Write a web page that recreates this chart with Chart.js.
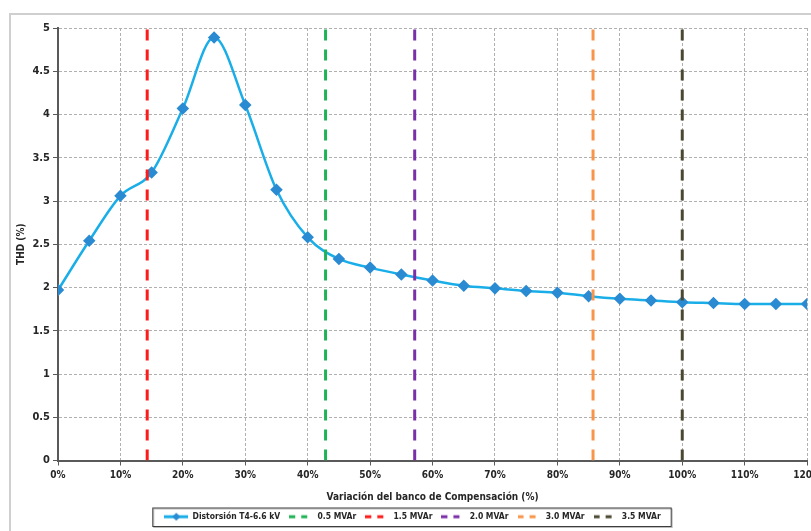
<!DOCTYPE html>
<html>
<head>
<meta charset="utf-8">
<script src="https://cdn.jsdelivr.net/npm/chart.js@4.4.0/dist/chart.umd.min.js"></script>
<style>
    html, body { margin: 0; padding: 0; background: #fff; overflow: hidden; width: 811px; height: 531px; }
    #frame { position: absolute; left: 9px; top: 13px; width: 900px; height: 600px; border: 2px solid #cfcfcf; }
    #wrap { position: absolute; left: 0; top: 0; width: 825px; height: 531px; }
</style>
</head>
<body>
<div id="frame"></div>
<div id="wrap"><canvas id="thdChart"></canvas></div>
<script>
// Variación del banco (%) vs THD (%)
const compensation = [0, 5, 10, 15, 20, 25, 30, 35, 40, 45, 50, 55, 60, 65, 70, 75, 80, 85, 90, 95, 100, 105, 110, 115, 120];
const thdValues = [1.97, 2.54, 3.06, 3.33, 4.07, 4.89, 4.11, 3.13, 2.58, 2.33, 2.23, 2.15, 2.08, 2.02, 1.99, 1.96, 1.94, 1.90, 1.87, 1.85, 1.83, 1.82, 1.81, 1.81, 1.81];

// bank size markers (vertical dashed lines)
const bankLabels = ['0.5 MVAr', '1.5 MVAr', '2.0 MVAr', '3.0 MVAr', '3.5 MVAr'];
const bankPositions = [42.86, 14.29, 57.14, 85.71, 100];
const bankColors = ['#1fb356', '#ff1a1a', '#7a2fa8', '#f7964a', '#4a4832'];

const seriesLabel = 'Distorsión T4-6.6 kV';
const lineColor = '#1aaee8';
const markerColor = '#2a8bd2';
const FONT = "'Liberation Sans Narrow', 'DejaVu Sans Condensed', 'Liberation Sans', sans-serif";

function makeLegendIcon(color, dashed, marker) {
    const c = document.createElement('canvas');
    c.width = 24;
    c.height = 10;
    const g = c.getContext('2d');
    g.strokeStyle = color;
    g.lineWidth = 3;
    if (dashed) g.setLineDash([6, 6]);
    g.beginPath();
    g.moveTo(0, 5);
    g.lineTo(24, 5);
    g.stroke();
    if (marker) {
        g.fillStyle = markerColor;
        g.beginPath();
        g.moveTo(12, 1);
        g.lineTo(16, 5);
        g.lineTo(12, 9);
        g.lineTo(8, 5);
        g.closePath();
        g.fill();
    }
    return c;
}

const legendIcons = [makeLegendIcon(lineColor, false, true)].concat(
    bankColors.map(col => makeLegendIcon(col, true, false))
);

const datasets = [{
    label: seriesLabel,
    data: compensation.map((x, i) => ({ x: x, y: thdValues[i] })),
    borderColor: lineColor,
    backgroundColor: markerColor,
    borderWidth: 2.5,
    pointStyle: 'rectRot',
    pointRadius: 4.5,
    pointBackgroundColor: markerColor,
    pointBorderColor: markerColor,
    cubicInterpolationMode: 'monotone',
    order: 1
}];

bankLabels.forEach((lbl, i) => {
    datasets.push({
        label: lbl,
        data: [{ x: bankPositions[i], y: 0 }, { x: bankPositions[i], y: 5 }],
        borderColor: bankColors[i],
        backgroundColor: bankColors[i],
        borderWidth: 3,
        borderDash: [11, 9],
        pointRadius: 0,
        order: 0
    });
});

const legendBorder = {
    id: 'legendBorder',
    afterDraw(chart) {
        const boxes = chart.legend && chart.legend.legendHitBoxes;
        if (!boxes || !boxes.length) return;
        const ctx = chart.ctx;
        let minX = Infinity, maxX = -Infinity;
        boxes.forEach(b => { minX = Math.min(minX, b.left); maxX = Math.max(maxX, b.left + b.width); });
        const top = boxes[0].top - 5;
        const h = boxes[0].height + 10;
        ctx.save();
        ctx.strokeStyle = '#bdbdbd';
        ctx.lineWidth = 1;
        ctx.strokeRect(minX - 12 + 1.5, top + 1.5, maxX - minX + 22, h);
        ctx.strokeStyle = '#3d3d3d';
        ctx.strokeRect(minX - 12 + 0.5, top + 0.5, maxX - minX + 22, h);
        ctx.restore();
    }
};

new Chart(document.getElementById('thdChart'), {
    type: 'line',
    data: { datasets: datasets },
    plugins: [legendBorder],
    options: {
        responsive: true,
        maintainAspectRatio: false,
        animation: false,
        layout: { padding: { top: 28, left: 0, right: 0, bottom: 0 } },
        plugins: {
            tooltip: { enabled: false },
            legend: {
                position: 'bottom',
                labels: {
                    usePointStyle: true,
                    pointStyleWidth: 24,
                    boxHeight: 9,
                    padding: 9,
                    color: '#262626',
                    font: { family: FONT, size: 8.5, weight: 'bold' },
                    sort: (a, b) => a.datasetIndex - b.datasetIndex,
                    generateLabels: function(chart) {
                        const items = Chart.defaults.plugins.legend.labels.generateLabels(chart);
                        items.forEach(it => { it.pointStyle = legendIcons[it.datasetIndex]; });
                        return items;
                    }
                }
            }
        },
        scales: {
            x: {
                type: 'linear',
                min: 0,
                max: 120,
                ticks: {
                    stepSize: 10,
                    color: '#262626',
                    padding: 4,
                    font: { family: FONT, size: 10, weight: 'bold' },
                    callback: v => v + '%'
                },
                grid: { color: '#b0b0b0', lineWidth: 1, tickColor: '#595959', tickLength: 5, tickBorderDash: [] },
                border: { display: true, color: '#595959', width: 2, dash: [3, 2] },
                title: {
                    display: true,
                    text: 'Variación del banco de Compensación (%)',
                    color: '#262626',
                    padding: { top: 6, bottom: 0 },
                    font: { family: FONT, size: 10, weight: 'bold' }
                }
            },
            y: {
                min: 0,
                max: 5,
                ticks: {
                    stepSize: 0.5,
                    color: '#262626',
                    padding: 3,
                    font: { family: FONT, size: 11, weight: 'bold' },
                    callback: v => String(Number(v.toFixed(1)))
                },
                grid: { color: '#b0b0b0', lineWidth: 1, tickColor: '#595959', tickLength: 5, tickBorderDash: [] },
                border: { display: true, color: '#595959', width: 2, dash: [3, 2] },
                title: {
                    display: true,
                    text: 'THD (%)',
                    color: '#262626',
                    padding: { top: 15, bottom: 0 },
                    font: { family: FONT, size: 10, weight: 'bold' }
                },
                afterFit: scale => { scale.width = 58; }
            }
        }
    }
});
</script>
</body>
</html>
